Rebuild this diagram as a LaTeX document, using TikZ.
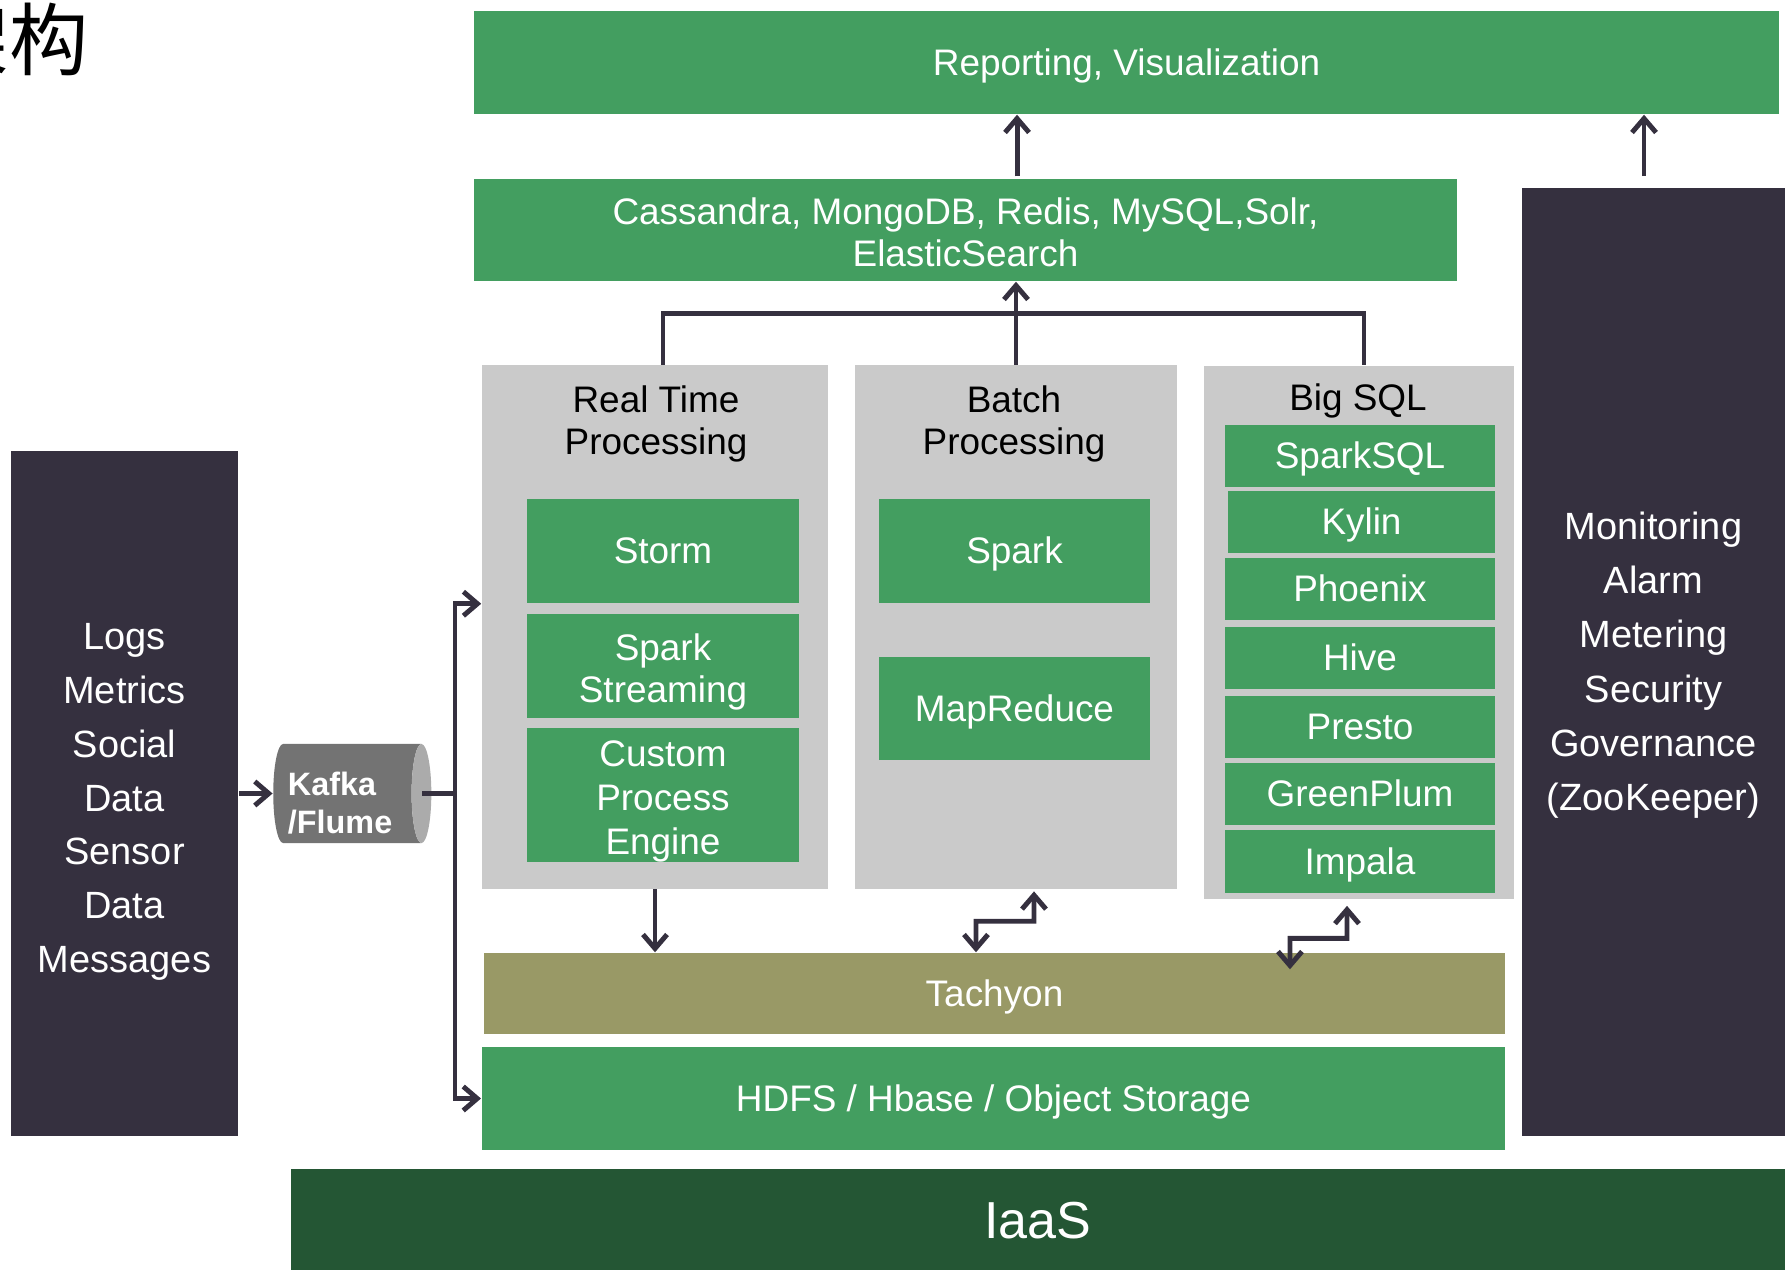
\documentclass[tikz,border=0pt]{standalone}
\usepackage{fontspec}
\setmainfont{Liberation Sans}
\newfontfamily\cjk{Noto Sans CJK SC}
\usetikzlibrary{arrows.meta,shapes.geometric}
\definecolor{boxgreen}{RGB}{67,158,96}
\definecolor{darkbox}{RGB}{53,48,63}
\definecolor{panelgray}{RGB}{202,202,202}
\definecolor{tachyonolive}{RGB}{153,153,102}
\definecolor{iaasgreen}{RGB}{36,86,52}
\definecolor{kafkabody}{RGB}{115,115,115}
\definecolor{kafkaend}{RGB}{171,171,171}
\newcommand\linestrut{\rule[-0.212em]{0pt}{1.117em}}
\tikzset{
  struts/.style={execute at begin node=\linestrut, execute at end node=\linestrut},
  box/.style={fill=boxgreen, text=white, inner sep=0pt, align=center, struts,
    font=\fontsize{10.5}{12}\selectfont},
  panel/.style={fill=panelgray, inner sep=0pt},
  ptitle/.style={align=center, struts, font=\fontsize{10.5}{12}\selectfont},
  sidebox/.style={fill=darkbox, text=white, inner sep=0pt, align=center,
    font=\fontsize{10.8}{15.4}\selectfont},
  textbox/.style 2 args={text height=#1, text depth=#2},
  link/.style={draw=darkbox, line width=1.4pt},
  tip/.tip={Straight Barb[length=1.4mm,width=2.4mm]},
  arrow/.style={link, -tip},
  biarrow/.style={link, tip-tip},
}
\begin{document}
\begin{tikzpicture}[x=0.01cm, y=-0.01cm]
  \useasboundingbox (0,0) rectangle (1785,1270);
  \node[anchor=east, inner sep=0pt, font=\cjk\fontsize{22.5}{22.5}\selectfont] (title) at (89,39) {架构};

  \node[box, minimum width=13.05cm, minimum height=1.03cm] (report) at (1126.5,62.5) {Reporting, Visualization};
  \node[box, textbox={20.9pt}{0pt}, minimum width=9.83cm, minimum height=1.02cm] (store) at (965.5,230) {Cassandra, MongoDB, Redis, MySQL,Solr,\\ElasticSearch};

  \node[sidebox, textbox={104.1pt}{2.27pt}, font=\fontsize{10.8}{15.3}\selectfont, minimum width=2.27cm, minimum height=6.85cm] (src) at (124.5,793.5) {Logs\\Metrics\\Social\\Data\\Sensor\\Data\\Messages};
  \node[sidebox, textbox={86.7pt}{2.27pt}, minimum width=2.63cm, minimum height=9.48cm] (monitor) at (1653.5,662) {Monitoring\\Alarm\\Metering\\Security\\Governance\\(ZooKeeper)};

  \node[panel, minimum width=3.46cm, minimum height=5.23cm] (rt) at (655,627) {};
  \node[panel, minimum width=3.22cm, minimum height=5.23cm] (batch) at (1016,627) {};
  \node[panel, minimum width=3.10cm, minimum height=5.33cm] (sql) at (1359,632.5) {};
  \node[ptitle, textbox={20.9pt}{2.2pt}] (rtt) at (656,422) {Real Time\\Processing};
  \node[ptitle, textbox={20.9pt}{2.2pt}] (batcht) at (1014,422) {Batch\\Processing};
  \node[ptitle] (sqlt) at (1358,398) {Big SQL};

  \node[box, minimum width=2.72cm, minimum height=1.04cm] (storm) at (663,551) {Storm};
  \node[box, textbox={22.8pt}{2.2pt}, minimum width=2.72cm, minimum height=1.04cm] (sstream) at (663,666) {Spark\\Streaming};
  \node[box, textbox={36.1pt}{2.2pt}, font=\fontsize{10.5}{12.5}\selectfont, minimum width=2.72cm, minimum height=1.27cm] (custom) at (663,795) {Custom\\Process\\Engine};

  \node[box, minimum width=2.71cm, minimum height=1.04cm] (spark) at (1014.5,551) {Spark};
  \node[box, minimum width=2.71cm, minimum height=1.03cm] (mapred) at (1014.5,708.5) {MapReduce};

  \node[box, minimum width=2.70cm, minimum height=0.62cm] (sparksql) at (1360,456) {SparkSQL};
  \node[box, minimum width=2.67cm, minimum height=0.62cm] (kylin) at (1361.5,522) {Kylin};
  \node[box, minimum width=2.70cm, minimum height=0.62cm] (phoenix) at (1360,589) {Phoenix};
  \node[box, minimum width=2.70cm, minimum height=0.62cm] (hive) at (1360,658) {Hive};
  \node[box, minimum width=2.70cm, minimum height=0.62cm] (presto) at (1360,727) {Presto};
  \node[box, minimum width=2.70cm, minimum height=0.62cm] (greenplum) at (1360,794) {GreenPlum};
  \node[box, minimum width=2.70cm, minimum height=0.62cm] (impala) at (1360,861.5) {Impala};

  \node[box, fill=tachyonolive, minimum width=10.21cm, minimum height=0.81cm] (tachyon) at (994.5,993.5) {Tachyon};
  \node[box, minimum width=10.23cm, minimum height=1.03cm] (hdfs) at (993.5,1098.5) {HDFS / Hbase / Object Storage};
  \node[box, fill=iaasgreen, minimum width=14.94cm, minimum height=1.01cm, font=\fontsize{14.8}{16}\selectfont] (iaas) at (1038,1220) {IaaS};

  \node[cylinder, cylinder uses custom fill, cylinder body fill=kafkabody, cylinder end fill=kafkaend,
    aspect=0.25, minimum width=0.99cm, minimum height=1.58cm, inner sep=0pt, text=white, align=left,
    text width=1.18cm, textbox={11.7pt}{10.8pt},
    font=\bfseries\fontsize{9.2}{10.8}\selectfont] (kafka) at (347,793.5) {Kafka\\/Flume};

  \coordinate (split) at (455,793.5);
  \draw[arrow] (src.east) -- (kafka.west);
  \draw[link] ([xshift=-0.1cm]kafka.east) -- (split);
  \draw[arrow] (split) |- (rt.west |- storm.south);
  \draw[arrow] (split) |- (hdfs.west);

  \draw[link] ([xshift=0.08cm]rt.north) -- ++(0,-51) -| ([xshift=0.05cm]sql.north);
  \draw[arrow] (batch.north) -- (batch.north |- store.south);
  \draw[arrow] ([xshift=0.515cm,yshift=0.02cm]store.north) -- ([xshift=0.515cm]store.north |- report.south);
  \draw[arrow] ([xshift=-0.095cm,yshift=0.11cm]monitor.north) -- ([xshift=-0.095cm]monitor.north |- report.south);

  \draw[arrow] (rt.south) -- (rt.south |- tachyon.north);
  \draw[biarrow] ([xshift=-0.40cm]batch.south |- tachyon.north) -- ++(0,-31) -- ++(58,0) -- ([xshift=0.18cm,yshift=-0.02cm]batch.south);
  \draw[biarrow] ([xshift=-0.69cm,yshift=-0.17cm]sql.south |- tachyon.north) -- ++(0,-31) -- ++(57,0) -- ([xshift=-0.12cm,yshift=-0.06cm]sql.south);
\end{tikzpicture}
\end{document}
